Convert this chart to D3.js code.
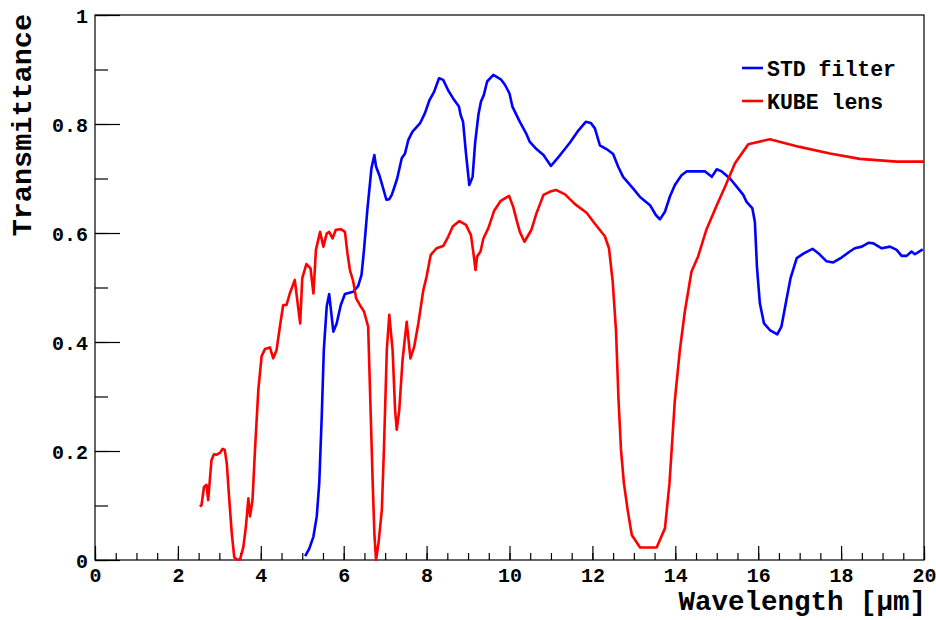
<!DOCTYPE html>
<html>
<head>
<meta charset="utf-8">
<script src="https://cdn.jsdelivr.net/npm/d3@7"></script>
<style>
  body { margin: 0; background: #fff; }
  svg text { font-family: "Liberation Mono", "Courier New", monospace; font-weight: bold; fill: #000; }
  .axis path { display: none; }
  .axis line { stroke: #000; stroke-width: 1.2; }
  .curve { fill: none; stroke-width: 2.6; stroke-linejoin: round; }
</style>
</head>
<body>
<svg id="chart" width="936" height="620"></svg>
<script>
// KUBE lens transmittance (red)
var kubeWavelength = [2.53, 2.57, 2.63, 2.69, 2.73, 2.81, 2.87, 2.93, 3.02, 3.08, 3.13, 3.18, 3.24, 3.30, 3.36, 3.42, 3.50, 3.58, 3.64, 3.70,
    3.74, 3.80, 3.86, 3.94, 4.02, 4.10, 4.22, 4.30, 4.38, 4.46, 4.54, 4.62, 4.70, 4.82, 4.88, 4.95, 5.00, 5.10, 5.20, 5.27,
    5.33, 5.43, 5.51, 5.59, 5.65, 5.73, 5.81, 5.93, 6.03, 6.09, 6.15, 6.23, 6.30, 6.39, 6.49, 6.59, 6.63, 6.70, 6.74, 6.78,
    6.84, 6.92, 6.97, 7.04, 7.10, 7.18, 7.24, 7.28, 7.34, 7.42, 7.52, 7.61, 7.70, 7.80, 7.92, 8.00, 8.10, 8.24, 8.40, 8.52,
    8.63, 8.79, 8.95, 9.07, 9.13, 9.18, 9.22, 9.30, 9.37, 9.49, 9.63, 9.79, 9.99, 10.09, 10.17, 10.25, 10.36, 10.53, 10.65, 10.82,
    10.98, 11.12, 11.34, 11.58, 11.86, 12.06, 12.30, 12.40, 12.49, 12.57, 12.63, 12.69, 12.76, 12.85, 12.95, 13.15, 13.55, 13.75, 13.86, 13.99,
    14.11, 14.23, 14.39, 14.55, 14.75, 15.00, 15.20, 15.44, 15.76, 16.28, 17.00, 17.73, 18.45, 19.34, 20.00];
var kubeTransmittance = [0.098, 0.101, 0.134, 0.138, 0.110, 0.183, 0.194, 0.193, 0.197, 0.204, 0.202, 0.177, 0.110, 0.049, 0.005, 0.001, 0.001, 0.024, 0.061, 0.113,
    0.080, 0.110, 0.202, 0.312, 0.374, 0.387, 0.390, 0.370, 0.385, 0.428, 0.468, 0.468, 0.489, 0.514, 0.477, 0.434, 0.517, 0.543, 0.535, 0.489,
    0.569, 0.602, 0.575, 0.599, 0.602, 0.590, 0.606, 0.607, 0.602, 0.563, 0.532, 0.511, 0.480, 0.468, 0.456, 0.428, 0.324, 0.141, 0.049, 0.000,
    0.031, 0.092, 0.202, 0.385, 0.450, 0.385, 0.275, 0.239, 0.275, 0.367, 0.437, 0.370, 0.391, 0.434, 0.495, 0.520, 0.560, 0.572, 0.576, 0.593,
    0.612, 0.622, 0.615, 0.596, 0.563, 0.532, 0.557, 0.566, 0.590, 0.609, 0.641, 0.659, 0.668, 0.648, 0.624, 0.602, 0.584, 0.606, 0.636, 0.670,
    0.676, 0.679, 0.671, 0.653, 0.637, 0.617, 0.594, 0.572, 0.511, 0.420, 0.294, 0.202, 0.141, 0.092, 0.046, 0.023, 0.023, 0.058, 0.141, 0.294,
    0.385, 0.456, 0.529, 0.557, 0.606, 0.651, 0.685, 0.728, 0.763, 0.772, 0.758, 0.746, 0.736, 0.731, 0.731];

// STD filter transmittance (blue)
var stdWavelength = [5.07, 5.17, 5.27, 5.35, 5.41, 5.47, 5.52, 5.59, 5.65, 5.75, 5.83, 5.93, 6.03, 6.23, 6.35, 6.43, 6.49, 6.57, 6.67, 6.74,
    6.78, 6.86, 6.94, 7.03, 7.10, 7.16, 7.24, 7.29, 7.40, 7.48, 7.56, 7.66, 7.84, 7.96, 8.07, 8.18, 8.30, 8.40, 8.52, 8.64,
    8.78, 8.82, 8.88, 8.95, 9.03, 9.11, 9.17, 9.25, 9.31, 9.38, 9.46, 9.61, 9.79, 9.89, 10.00, 10.07, 10.25, 10.40, 10.49, 10.65,
    10.82, 11.00, 11.22, 11.46, 11.66, 11.84, 11.96, 12.06, 12.18, 12.34, 12.50, 12.62, 12.74, 12.98, 13.15, 13.39, 13.53, 13.63, 13.75, 13.87,
    13.99, 14.15, 14.27, 14.72, 14.88, 15.00, 15.12, 15.32, 15.48, 15.64, 15.72, 15.86, 15.92, 15.97, 16.04, 16.14, 16.28, 16.46, 16.56, 16.68,
    16.78, 16.93, 17.09, 17.31, 17.45, 17.65, 17.81, 18.01, 18.21, 18.33, 18.50, 18.66, 18.78, 18.98, 19.18, 19.34, 19.46, 19.58, 19.70, 19.78, 19.97];
var stdTransmittance = [0.007, 0.021, 0.043, 0.080, 0.141, 0.263, 0.385, 0.465, 0.488, 0.419, 0.434, 0.468, 0.488, 0.492, 0.503, 0.523, 0.569, 0.642, 0.719, 0.743,
    0.722, 0.706, 0.685, 0.661, 0.662, 0.670, 0.688, 0.700, 0.737, 0.746, 0.771, 0.786, 0.801, 0.820, 0.844, 0.859, 0.884, 0.881, 0.862, 0.847,
    0.832, 0.817, 0.804, 0.746, 0.688, 0.703, 0.765, 0.817, 0.841, 0.853, 0.878, 0.890, 0.882, 0.872, 0.856, 0.832, 0.804, 0.783, 0.767, 0.754,
    0.743, 0.723, 0.743, 0.766, 0.788, 0.804, 0.802, 0.792, 0.761, 0.754, 0.745, 0.722, 0.703, 0.682, 0.666, 0.651, 0.633, 0.625, 0.639, 0.667,
    0.688, 0.706, 0.713, 0.713, 0.703, 0.717, 0.713, 0.700, 0.685, 0.670, 0.657, 0.645, 0.620, 0.538, 0.471, 0.434, 0.422, 0.414, 0.428, 0.477,
    0.517, 0.554, 0.562, 0.571, 0.563, 0.548, 0.546, 0.555, 0.566, 0.572, 0.575, 0.582, 0.581, 0.572, 0.575, 0.569, 0.558, 0.558, 0.566, 0.561, 0.570];

var xMajorTicks = [0, 2, 4, 6, 8, 10, 12, 14, 16, 18, 20];
var yMajorTicks = [0, 0.2, 0.4, 0.6, 0.8, 1];
var seriesNames = ['STD filter', 'KUBE lens'];
var seriesColors = ['#0000ff', '#ff0000'];

var plot = { left: 95, right: 924, top: 15, bottom: 560 };

var svg = d3.select('#chart');
svg.append('rect').attr('width', 936).attr('height', 620).attr('fill', '#fff');

var x = d3.scaleLinear().domain([0, 20]).range([plot.left, plot.right]);
var y = d3.scaleLinear().domain([0, 1]).range([plot.bottom, plot.top]);

// x axis: major + minor ticks pointing into the frame
svg.append('g').attr('class', 'axis')
    .attr('transform', 'translate(0,' + plot.bottom + ')')
    .call(d3.axisBottom(x).tickValues(d3.range(0, 20.01, 0.5)).tickSize(-7).tickFormat(''));
var xAxis = svg.append('g').attr('class', 'axis')
    .attr('transform', 'translate(0,' + plot.bottom + ')')
    .call(d3.axisBottom(x).tickValues(xMajorTicks).tickSize(-14).tickPadding(11).tickFormat(d3.format('d')));
xAxis.selectAll('text').attr('font-size', 20).attr('y', 22).attr('dy', 0);

// y axis
svg.append('g').attr('class', 'axis')
    .attr('transform', 'translate(' + plot.left + ',0)')
    .call(d3.axisLeft(y).tickValues(d3.range(0, 1.001, 0.1)).tickSize(-13).tickFormat(''));
var yAxis = svg.append('g').attr('class', 'axis')
    .attr('transform', 'translate(' + plot.left + ',0)')
    .call(d3.axisLeft(y).tickValues(yMajorTicks).tickSize(-25)
        .tickFormat(function(d) { return (d === 0 || d === 1) ? d : d.toFixed(1); }));
yAxis.selectAll('text').attr('font-size', 20).attr('x', -7).attr('dy', '0.35em');

// frame
svg.append('rect')
    .attr('x', plot.left).attr('y', plot.top)
    .attr('width', plot.right - plot.left).attr('height', plot.bottom - plot.top)
    .attr('fill', 'none').attr('stroke', '#000').attr('stroke-width', 1.2);

// curves
var line = d3.line()
    .x(function(d) { return x(d[0]); })
    .y(function(d) { return y(d[1]); });

var clip = svg.append('clipPath').attr('id', 'plotclip');
clip.append('rect').attr('x', plot.left).attr('y', plot.top)
    .attr('width', plot.right - plot.left).attr('height', plot.bottom - plot.top + 2);

var series = [
    d3.zip(stdWavelength, stdTransmittance),
    d3.zip(kubeWavelength, kubeTransmittance)
];

svg.append('g').attr('clip-path', 'url(#plotclip)')
    .selectAll('path')
    .data(series)
    .enter().append('path')
    .attr('class', 'curve')
    .attr('stroke', function(d, i) { return seriesColors[i]; })
    .attr('d', line);

// legend
var legend = svg.append('g').attr('transform', 'translate(742,68)');
var items = legend.selectAll('g').data(seriesNames)
    .enter().append('g')
    .attr('transform', function(d, i) { return 'translate(0,' + (i * 33) + ')'; });
items.append('line')
    .attr('x1', 0).attr('x2', 21).attr('y1', 0).attr('y2', 0)
    .attr('stroke', function(d, i) { return seriesColors[i]; })
    .attr('stroke-width', 2.6);
items.append('text')
    .attr('x', 25).attr('y', 0).attr('dy', '0.35em')
    .attr('font-size', 21.5)
    .text(function(d) { return d; });

// axis titles
svg.append('text')
    .attr('x', plot.right + 2).attr('y', 610)
    .attr('text-anchor', 'end')
    .attr('font-size', 27.5)
    .text('Wavelength [μm]');

svg.append('text')
    .attr('transform', 'translate(31,' + (plot.top - 1) + ') rotate(-90)')
    .attr('text-anchor', 'end')
    .attr('font-size', 28.5)
    .text('Transmittance');
</script>
</body>
</html>
